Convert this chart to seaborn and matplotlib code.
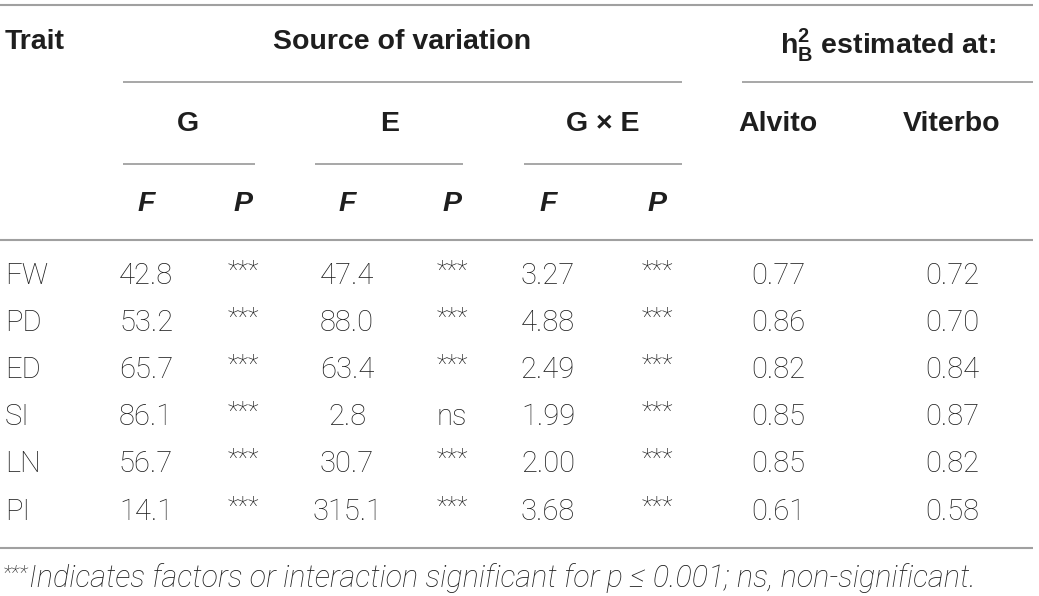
import matplotlib

matplotlib.use("Agg")
import matplotlib.pyplot as plt
import seaborn as sns
import pandas as pd

# table data
traits = ["FW", "PD", "ED", "SI", "LN", "PI"]
g_f = ["42.8", "53.2", "65.7", "86.1", "56.7", "14.1"]
g_p = ["***", "***", "***", "***", "***", "***"]
e_f = ["47.4", "88.0", "63.4", "2.8", "30.7", "315.1"]
e_p = ["***", "***", "***", "ns", "***", "***"]
ge_f = ["3.27", "4.88", "2.49", "1.99", "2.00", "3.68"]
ge_p = ["***", "***", "***", "***", "***", "***"]
h2_alvito = ["0.77", "0.86", "0.82", "0.85", "0.85", "0.61"]
h2_viterbo = ["0.72", "0.70", "0.84", "0.87", "0.82", "0.58"]
footnote = "Indicates factors or interaction significant for p \u2264 0.001; ns, non-significant."

df = pd.DataFrame({
    "Trait": traits, "G_F": g_f, "G_P": g_p, "E_F": e_f, "E_P": e_p,
    "GE_F": ge_f, "GE_P": ge_p, "Alvito": h2_alvito, "Viterbo": h2_viterbo,
})

sns.set_theme(style="white")
plt.rcParams["font.family"] = ["Roboto", "DejaVu Sans"]
plt.rcParams["mathtext.fontset"] = "custom"
plt.rcParams["mathtext.rm"] = "Liberation Sans"
plt.rcParams["mathtext.bf"] = "Liberation Sans:bold"

TXT = "#1e1e1e"
LINE = "#a0a0a0"

fig = plt.figure(figsize=(10.39, 5.96), dpi=100)
ax = fig.add_axes([0, 0, 1, 1])
ax.set_xlim(0, 1039)
ax.set_ylim(596, 0)
ax.axis("off")

col_x = {"G_F": 146, "G_P": 243, "E_F": 347, "E_P": 452,
         "GE_F": 548, "GE_P": 657, "Alvito": 778, "Viterbo": 952}
row_y = [276, 323, 370, 417, 464, 512]

hdr = dict(fontsize=20.5, fontweight="bold", color=TXT, family="Liberation Sans")

# rules
ax.hlines(5, 0, 1033, color=LINE, lw=1.5)
ax.hlines(82, 123, 682, color=LINE, lw=1.3)
ax.hlines(82, 742, 1033, color=LINE, lw=1.3)
for x0, x1 in [(123, 255), (315, 463), (524, 682)]:
    ax.hlines(164, x0, x1, color=LINE, lw=1.3)
ax.hlines(240, 0, 1033, color=LINE, lw=1.5)
ax.hlines(548, 0, 1033, color=LINE, lw=1.5)

# headers
ax.text(5, 42, "Trait", ha="left", va="center", **hdr)
ax.text(402, 42, "Source of variation", ha="center", va="center", **hdr)
ax.text(888, 45, r"h$^{\mathbf{2}}_{\mathbf{B}}$ estimated at:", ha="center", va="center", **hdr)
ax.text(188, 124, "G", ha="center", va="center", **hdr)
ax.text(390, 124, "E", ha="center", va="center", **hdr)
ax.text(603, 124, "G \u00d7 E", ha="center", va="center", **hdr)
ax.text(778, 124, "Alvito", ha="center", va="center", **hdr)
ax.text(952, 124, "Viterbo", ha="center", va="center", **hdr)
for key in ["G_F", "E_F", "GE_F"]:
    ax.text(col_x[key], 204, "F", ha="center", va="center", style="italic", **hdr)
for key in ["G_P", "E_P", "GE_P"]:
    ax.text(col_x[key], 204, "P", ha="center", va="center", style="italic", **hdr)

# body
body = dict(fontsize=21, fontweight="light", color=TXT)
for i, row in df.iterrows():
    y = row_y[i]
    ax.text(5, y, row["Trait"], ha="left", va="center", **body)
    for key, x in col_x.items():
        val = row[key]
        if val == "***":
            ax.text(x, y - 4, val, ha="center", va="center",
                    fontsize=18, fontweight="light", color=TXT)
        else:
            ax.text(x, y, val, ha="center", va="center", **body)

# footnote
ax.text(3, 574, "***", ha="left", va="center", fontsize=15,
        fontweight="light", style="italic", color=TXT)
ax.text(29, 578, footnote, ha="left", va="center", fontsize=22,
        fontweight="light", style="italic", color=TXT)

fig.savefig("out.png", dpi=100)
plt.close(fig)
